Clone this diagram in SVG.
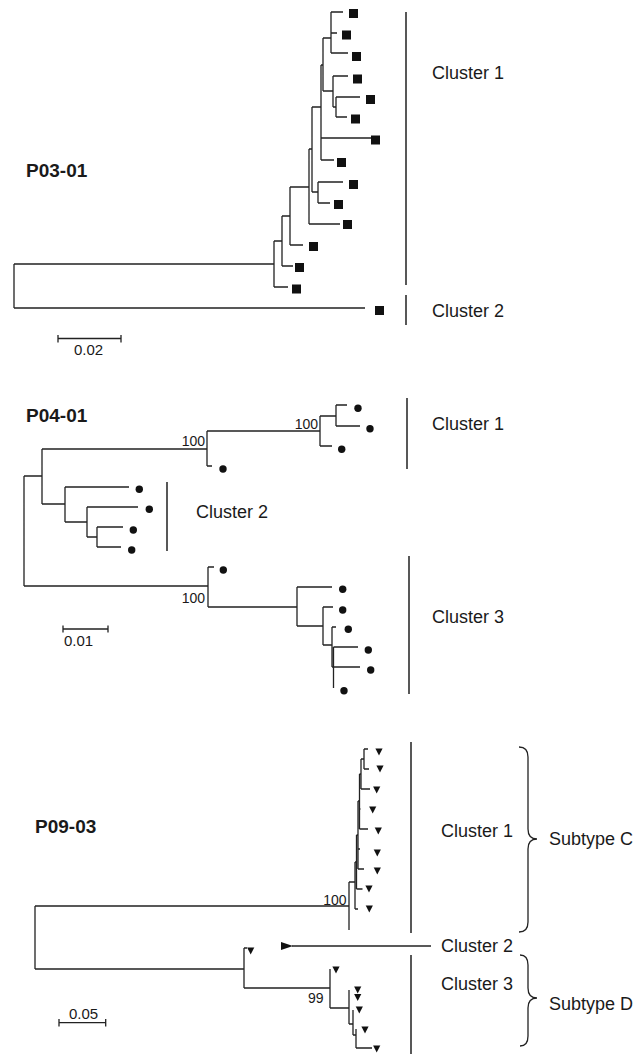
<svg xmlns="http://www.w3.org/2000/svg" width="644" height="1054" viewBox="0 0 644 1054">
<style>
text{font-family:"Liberation Sans",Arial,sans-serif;fill:#1a1a1a}
.title{font-size:19px;font-weight:bold}
.lab{font-size:18px}
.bs{font-size:14px}
.sc{font-size:15px}
.br{fill:none;stroke:#222;stroke-width:1.3}
.bar{fill:none;stroke:#222;stroke-width:1.5}
.sq{fill:#111}
.dot{fill:#111}
.tri{fill:#111}
</style>
<defs>
<rect id="sq" x="-4.5" y="-4.5" width="9" height="9" class="sq"/>
<circle id="dt" r="3.7" class="dot"/>
<polygon id="tr" points="-3.6,-3.4 3.6,-3.4 0,3.6" class="tri"/>
<marker id="ah" viewBox="0 0 12 8" refX="1" refY="4" markerWidth="12" markerHeight="8" markerUnits="userSpaceOnUse" orient="auto-start-reverse"><polygon points="0,4 12,0 12,8" fill="#111"/></marker>
</defs>

<g id="connectors">
<path class="br" d="M331,12H343M331,33H337M331,53H348M331,12V53M323,38H331M323,38V91M323,91H333M333,76V107M333,76H348M333,107H336M336,97V117M336,97H360M336,117H347M321,65H323M321,65V160M321,138H375M321,160H334M312,107H321M312,107V192M312,192H318M318,182V203M318,182H343M318,203H330M309,149H312M309,149V224M309,224H340M290,187H309M290,187V245M290,245H303M282,216H290M282,216V266M282,266H293M274,241H282M274,241V287M274,287H288M14,264H274M14,264V308M14,308H365"/>
<path class="br" d="M24,476V586M24,476H42M42,449V504M42,449H207M207,431V466M207,466H212M207,431H320M320,416V446M320,446H332M320,416H336M336,405V426M336,405H347M336,426H360M42,504H65M65,487V522M65,487H129M65,522H87M87,507V537M87,507H138M87,537H97M97,527V547M97,527H123M97,547H121M24,586H208M208,567V607M208,567H214M208,607H297M297,587V626M297,587H332M297,626H323M323,607V645M323,607H333M323,645H332M332,627V667M332,627H336M332,667H333.5M333.5,647V688M333.5,647H358M333.5,667H360"/>
<path class="br" d="M35,906V969M35,906H349M349,882V930M349,882H355M355,862V909M355,909H358M355,862H356.5M356.5,835V889M356.5,889H362.5M356.5,835H358M358,801V869M358,849H360M358,869H364M358,801H359.5M359.5,774V829M359.5,809H360.5M359.5,829H368M359.5,774H361M361,759V789M361,789H370M361,759H364M364,749V769M364,749H368M364,769H369"/>
<path class="br" d="M35,969H244M244,948V988M244,948H247M244,988H330M330,969V1008M330,1008H349M349,990V1024M349,1024H353M353,1010V1035M353,1035H356M356,1029V1048M356,1048H372"/>
<path class="br" d="M431,946H292" marker-end="url(#ah)"/>
<path class="br" d="M519,747Q528,747 528,757L528,829Q528,839 537,839Q528,839 528,849L528,922Q528,932 519,932"/>
<path class="br" d="M520,955Q528,955 528,965L528,988Q528,998 537,998Q528,998 528,1008L528,1036Q528,1046 520,1046"/>
</g>

<g id="tree1-leaves">
<use href="#sq" x="353.5" y="13.5"/><use href="#sq" x="346.5" y="35"/><use href="#sq" x="356.5" y="56.5"/><use href="#sq" x="357.5" y="79"/><use href="#sq" x="370.5" y="99.5"/><use href="#sq" x="355.5" y="119"/><use href="#sq" x="375.5" y="140"/><use href="#sq" x="341.5" y="162.5"/><use href="#sq" x="353.5" y="184.5"/><use href="#sq" x="338.5" y="204.5"/><use href="#sq" x="347.5" y="224.5"/><use href="#sq" x="313.5" y="246.5"/><use href="#sq" x="299.5" y="267.5"/><use href="#sq" x="296.5" y="289"/><use href="#sq" x="379.5" y="310.5"/>
</g>
<g id="tree1-labels">
<text class="title" x="26" y="177">P03-01</text>
<path class="bar" d="M406,12V285M406,295V325"/>
<text class="lab" x="432" y="79">Cluster 1</text>
<text class="lab" x="432" y="317">Cluster 2</text>
<path class="br" d="M58,338.5H121M58,335V342.5M121,335V342.5"/>
<text class="sc" x="88.5" y="355" text-anchor="middle">0.02</text>
</g>

<g id="tree2-leaves">
<use href="#dt" x="223" y="469"/><use href="#dt" x="358" y="408.3"/><use href="#dt" x="370" y="428.7"/><use href="#dt" x="341.7" y="449.3"/><use href="#dt" x="139.3" y="489.3"/><use href="#dt" x="149.3" y="509.3"/><use href="#dt" x="133.3" y="530"/><use href="#dt" x="131.7" y="550"/><use href="#dt" x="223.3" y="570"/><use href="#dt" x="342.7" y="589.3"/><use href="#dt" x="342.7" y="610"/><use href="#dt" x="348.3" y="629.3"/><use href="#dt" x="368.3" y="650"/><use href="#dt" x="370.7" y="670"/><use href="#dt" x="344" y="690.7"/>
</g>
<g id="tree2-labels">
<text class="title" x="26" y="422">P04-01</text>
<text class="bs" x="205" y="446" text-anchor="end">100</text>
<text class="bs" x="318" y="429" text-anchor="end">100</text>
<text class="bs" x="205" y="603" text-anchor="end">100</text>
<path class="bar" d="M407,398V469M167,482V551M409,556V694"/>
<text class="lab" x="432" y="430">Cluster 1</text>
<text class="lab" x="196" y="518">Cluster 2</text>
<text class="lab" x="432" y="623">Cluster 3</text>
<path class="br" d="M63,629H108M63,625.5V632.5M108,625.5V632.5"/>
<text class="sc" x="64" y="646">0.01</text>
</g>

<g id="tree3-leaves">
<use href="#tr" x="379" y="752"/><use href="#tr" x="380" y="769"/><use href="#tr" x="376.7" y="790"/><use href="#tr" x="372.7" y="810"/><use href="#tr" x="378.3" y="831"/><use href="#tr" x="377.3" y="853"/><use href="#tr" x="377.3" y="871"/><use href="#tr" x="369" y="889"/><use href="#tr" x="369.3" y="909"/>
<use href="#tr" x="250.7" y="951"/><use href="#tr" x="336" y="970"/><use href="#tr" x="357.7" y="990"/><use href="#tr" x="357.7" y="997.3"/><use href="#tr" x="359.3" y="1010"/><use href="#tr" x="365" y="1030"/><use href="#tr" x="376.7" y="1049"/>
</g>
<g id="tree3-labels">
<text class="title" x="35" y="833">P09-03</text>
<text class="bs" x="346.5" y="905" text-anchor="end">100</text>
<text class="bs" x="323.5" y="1003" text-anchor="end">99</text>
<path class="bar" d="M411,742V933M411,955V1054"/>
<text class="lab" x="441" y="837">Cluster 1</text>
<text class="lab" x="441" y="952">Cluster 2</text>
<text class="lab" x="441" y="990">Cluster 3</text>
<text class="lab" x="549" y="845">Subtype C</text>
<text class="lab" x="549" y="1010">Subtype D</text>
<path class="br" d="M59,1022.7H105.7M59,1019V1026.5M105.7,1019V1026.5"/>
<text class="sc" x="83.5" y="1019" text-anchor="middle">0.05</text>
</g>
</svg>
